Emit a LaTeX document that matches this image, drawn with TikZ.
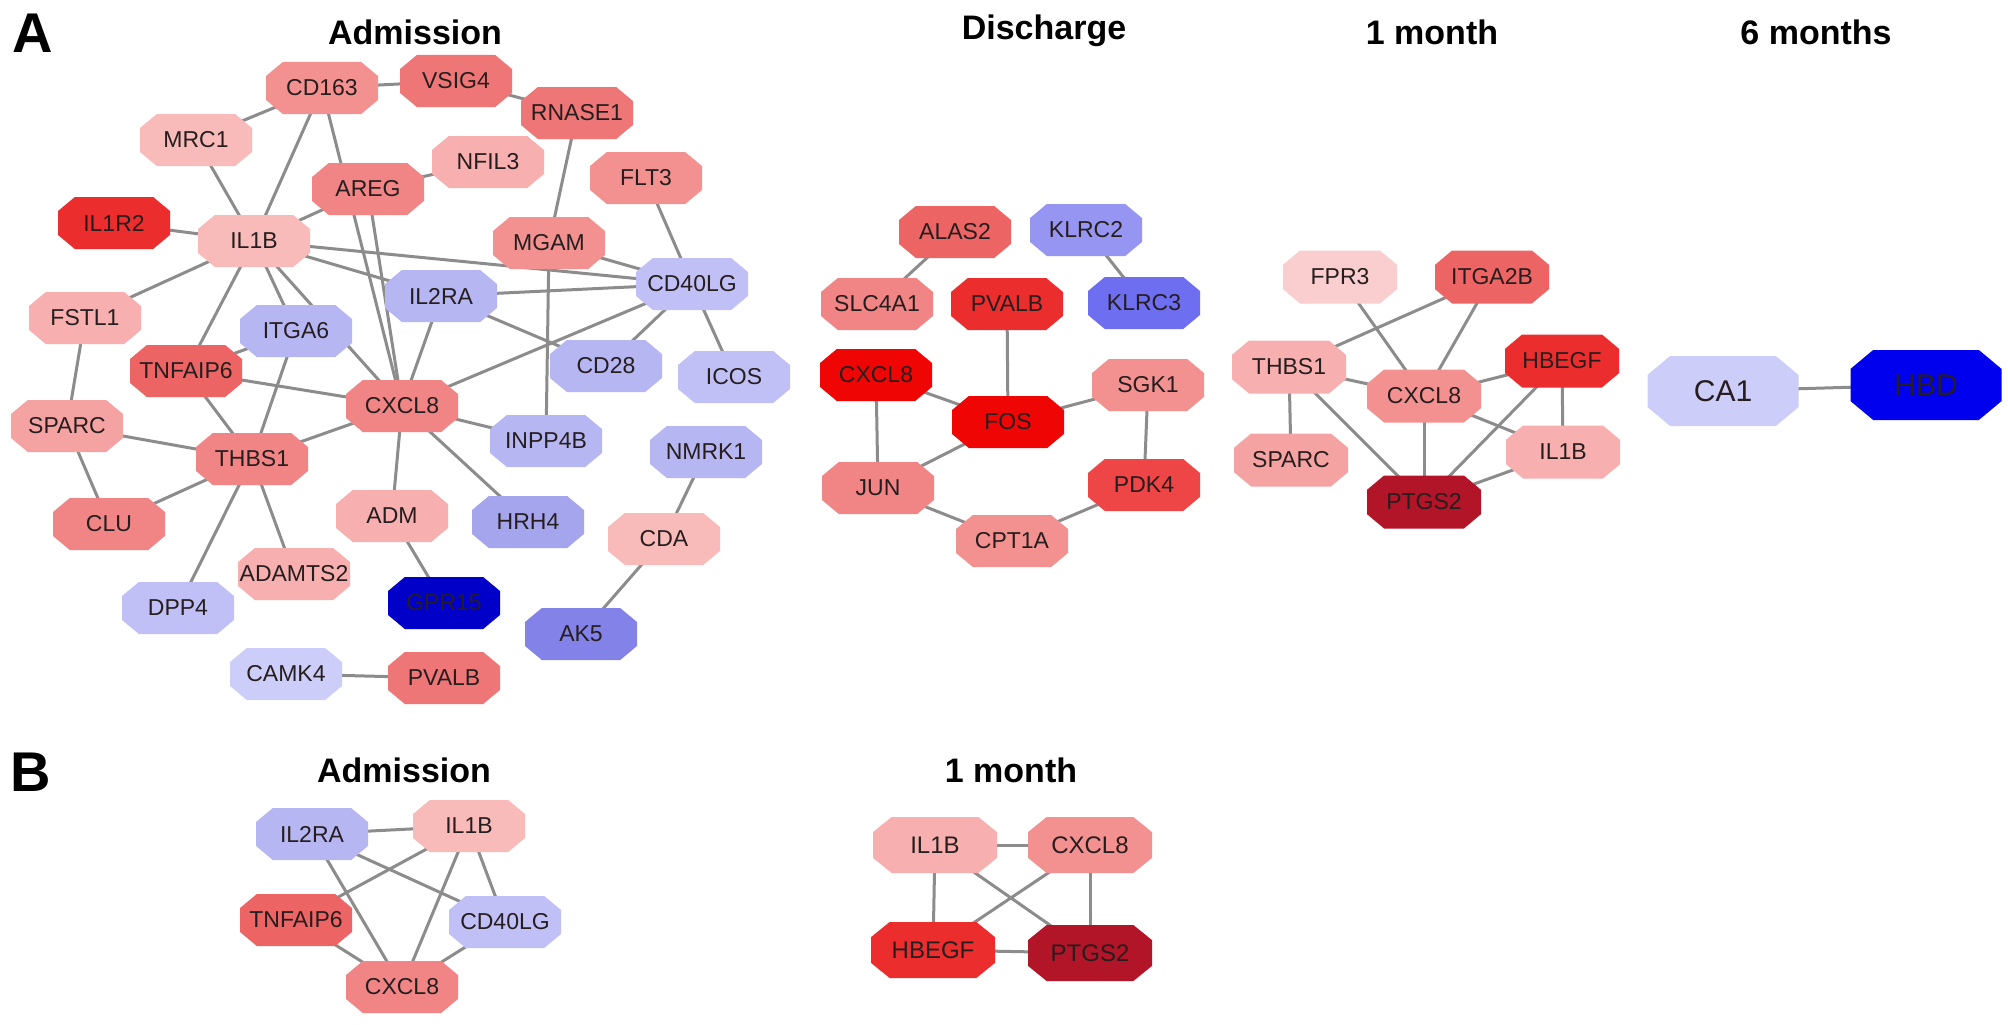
\documentclass[tikz,border=0pt]{standalone}
\usepackage{fontspec}
\setmainfont{Liberation Sans}
\usetikzlibrary{calc}
\pgfdeclarelayer{bg}
\pgfsetlayers{bg,main}
% colours
\definecolor{p1}{RGB}{250,206,206}
\definecolor{p2}{RGB}{249,186,186}
\definecolor{p3}{RGB}{247,175,175}
\definecolor{p4}{RGB}{245,162,162}
\definecolor{p5}{RGB}{243,145,145}
\definecolor{p6}{RGB}{241,132,132}
\definecolor{p7}{RGB}{239,118,118}
\definecolor{p8}{RGB}{237,100,100}
\definecolor{r1}{RGB}{238,70,70}
\definecolor{r2}{RGB}{236,45,45}
\definecolor{r3}{RGB}{240,5,5}
\definecolor{dr}{RGB}{178,20,40}
\definecolor{b1}{RGB}{205,205,250}
\definecolor{b2}{RGB}{192,192,246}
\definecolor{b3}{RGB}{182,182,243}
\definecolor{b4}{RGB}{165,165,238}
\definecolor{b5}{RGB}{150,150,242}
\definecolor{b6}{RGB}{130,130,232}
\definecolor{b7}{RGB}{110,110,240}
\definecolor{bd1}{RGB}{0,0,200}
\definecolor{bd2}{RGB}{0,0,238}
\definecolor{txt}{RGB}{38,30,30}
\definecolor{linkgray}{RGB}{140,140,140}
\newcommand\octfill[1]{%
  \fill[#1] let \p1=(path picture bounding box.south west),
                \p2=(path picture bounding box.north east),
                \n1={0.15*(\x2-\x1)}, \n2={0.27*(\y2-\y1)} in
    ({\x1+\n1},{\y1}) -- ({\x2-\n1},{\y1}) -- ({\x2},{\y1+\n2}) -- ({\x2},{\y2-\n2})
    -- ({\x2-\n1},{\y2}) -- ({\x1+\n1},{\y2}) -- ({\x1},{\y2-\n2}) -- ({\x1},{\y1+\n2}) -- cycle;}
\tikzset{
  oct/.style={rectangle, inner sep=0pt, minimum width=112pt, minimum height=52pt,
    text=txt, font=\fontsize{23}{26}\selectfont, path picture={\octfill{#1}}},
  octm/.style={oct=#1, minimum width=114pt, minimum height=53pt},
  octb/.style={oct=#1, minimum width=124pt, minimum height=56pt, font=\fontsize{24}{27}\selectfont},
  octl/.style={oct=#1, minimum width=151pt, minimum height=70pt, font=\fontsize{30}{34}\selectfont},
  ttl/.style={font=\bfseries\fontsize{34}{40}\selectfont, text=black, inner sep=0pt},
  panel/.style={font=\bfseries\fontsize{56}{60}\selectfont, text=black, inner sep=0pt},
  link/.style={draw=linkgray, line width=3pt},
}
\begin{document}
\begin{tikzpicture}[x=1pt,y=-1pt]
\useasboundingbox (0,0) rectangle (2008,1025);
% titles
\node[panel] (lblA) at (33,33) {A};
\node[panel] (lblB) at (31,772) {B};
\node[ttl] (tAdm) at (415,32) {Admission};
\node[ttl] (tDis) at (1044,31) {Discharge};
\node[ttl] (tMon) at (1432,32) {1 month};
\node[ttl] (tSix) at (1816,32) {6 months};
\node[ttl] (tAdmB) at (404,770) {Admission};
\node[ttl] (tMonB) at (1011,770) {1 month};
% ---- A: Admission
\node[oct=p5] (aCD163) at (322,88) {CD163};
\node[oct=p7] (aVSIG4) at (456,81) {VSIG4};
\node[oct=p2] (aMRC1) at (196,140) {MRC1};
\node[oct=p3] (aNFIL3) at (488,162) {NFIL3};
\node[oct=p7] (aRNASE1) at (577,113) {RNASE1};
\node[oct=p6] (aAREG) at (368,189) {AREG};
\node[oct=p5] (aFLT3) at (646,178) {FLT3};
\node[oct=r2] (aIL1R2) at (114,223) {IL1R2};
\node[oct=p2] (aIL1B) at (254,241) {IL1B};
\node[oct=p5] (aMGAM) at (549,243) {MGAM};
\node[oct=b2] (aCD40LG) at (692,284) {CD40LG};
\node[oct=b3] (aIL2RA) at (441,296) {IL2RA};
\node[oct=p3] (aFSTL1) at (85,318) {FSTL1};
\node[oct=b3] (aITGA6) at (296,331) {ITGA6};
\node[oct=p8] (aTNFAIP6) at (186,371) {TNFAIP6};
\node[oct=b3] (aCD28) at (606,366) {CD28};
\node[oct=b2] (aICOS) at (734,377) {ICOS};
\node[oct=p6] (aCXCL8) at (402,406) {CXCL8};
\node[oct=p4] (aSPARC) at (67,426) {SPARC};
\node[oct=b3] (aINPP4B) at (546,441) {INPP4B};
\node[oct=b3] (aNMRK1) at (706,452) {NMRK1};
\node[oct=p6] (aTHBS1) at (252,459) {THBS1};
\node[oct=p6] (aCLU) at (109,524) {CLU};
\node[oct=p3] (aADM) at (392,516) {ADM};
\node[oct=b4] (aHRH4) at (528,522) {HRH4};
\node[oct=p2] (aCDA) at (664,539) {CDA};
\node[oct=p3] (aADAMTS2) at (294,574) {ADAMTS2};
\node[oct=bd1] (aGPR15) at (444,603) {GPR15};
\node[oct=b2] (aDPP4) at (178,608) {DPP4};
\node[oct=b6] (aAK5) at (581,634) {AK5};
\node[oct=b1] (aCAMK4) at (286,674) {CAMK4};
\node[oct=p7] (aPVALB) at (444,678) {PVALB};
% ---- A: Discharge
\node[oct=p8] (dALAS2) at (955,232) {ALAS2};
\node[oct=b5] (dKLRC2) at (1086,230) {KLRC2};
\node[oct=p6] (dSLC4A1) at (877,304) {SLC4A1};
\node[oct=r2] (dPVALB) at (1007,304) {PVALB};
\node[oct=b7] (dKLRC3) at (1144,303) {KLRC3};
\node[oct=r3] (dCXCL8) at (876,375) {CXCL8};
\node[oct=r3] (dFOS) at (1008,422) {FOS};
\node[oct=p5] (dSGK1) at (1148,385) {SGK1};
\node[oct=p6] (dJUN) at (878,488) {JUN};
\node[oct=r1] (dPDK4) at (1144,485) {PDK4};
\node[oct=p5] (dCPT1A) at (1012,541) {CPT1A};
% ---- A: 1 month
\node[octm=p1] (mFPR3) at (1340,277) {FPR3};
\node[octm=p8] (mITGA2B) at (1492,277) {ITGA2B};
\node[octm=p3] (mTHBS1) at (1289,367) {THBS1};
\node[octm=r2] (mHBEGF) at (1562,361) {HBEGF};
\node[octm=p5] (mCXCL8) at (1424,396) {CXCL8};
\node[octm=p4] (mSPARC) at (1291,460) {SPARC};
\node[octm=p3] (mIL1B) at (1563,452) {IL1B};
\node[octm=dr] (mPTGS2) at (1424,502) {PTGS2};
% ---- A: 6 months
\node[octl=b1] (sCA1) at (1723,391) {CA1};
\node[octl=bd2] (sHBD) at (1926,385) {HBD};
% ---- B: Admission
\node[oct=b3] (bIL2RA) at (312,834) {IL2RA};
\node[oct=p2] (bIL1B) at (469,826) {IL1B};
\node[oct=p8] (bTNFAIP6) at (296,920) {TNFAIP6};
\node[oct=b2] (bCD40LG) at (505,922) {CD40LG};
\node[oct=p6] (bCXCL8) at (402,987) {CXCL8};
% ---- B: 1 month
\node[octb=p3] (cIL1B) at (935,845) {IL1B};
\node[octb=p5] (cCXCL8) at (1090,845) {CXCL8};
\node[octb=r2] (cHBEGF) at (933,950) {HBEGF};
\node[octb=dr] (cPTGS2) at (1090,953) {PTGS2};
% ---- connectors
\begin{pgfonlayer}{bg}
\fill[white] (0,0) rectangle (2008,1025);
\foreach \u/\v in {
  aCD163/aVSIG4, aVSIG4/aRNASE1, aCD163/aMRC1, aCD163/aIL1B, aCD163/aCXCL8,
  aMRC1/aIL1B, aNFIL3/aAREG, aAREG/aIL1B, aAREG/aCXCL8, aRNASE1/aMGAM,
  aIL1R2/aIL1B, aIL1B/aFSTL1, aIL1B/aTNFAIP6, aIL1B/aITGA6, aIL1B/aCXCL8,
  aIL1B/aIL2RA, aIL1B/aCD40LG, aMGAM/aCD40LG, aIL2RA/aCD40LG, aFLT3/aCD40LG,
  aCD40LG/aCD28, aCD40LG/aICOS, aCD40LG/aCXCL8, aIL2RA/aCD28, aIL2RA/aCXCL8,
  aMGAM/aINPP4B, aITGA6/aTNFAIP6, aITGA6/aTHBS1, aTNFAIP6/aTHBS1, aTNFAIP6/aCXCL8,
  aFSTL1/aSPARC, aSPARC/aTHBS1, aSPARC/aCLU, aTHBS1/aCLU, aTHBS1/aDPP4,
  aTHBS1/aADAMTS2, aTHBS1/aCXCL8, aCXCL8/aINPP4B, aCXCL8/aHRH4, aCXCL8/aADM,
  aADM/aGPR15, aCAMK4/aPVALB, aNMRK1/aCDA, aCDA/aAK5,
  dALAS2/dSLC4A1, dKLRC2/dKLRC3, dPVALB/dFOS, dCXCL8/dFOS, dCXCL8/dJUN,
  dFOS/dJUN, dFOS/dSGK1, dSGK1/dPDK4, dPDK4/dCPT1A, dJUN/dCPT1A,
  mFPR3/mCXCL8, mITGA2B/mTHBS1, mITGA2B/mCXCL8, mTHBS1/mCXCL8, mTHBS1/mSPARC,
  mTHBS1/mPTGS2, mCXCL8/mHBEGF, mCXCL8/mPTGS2, mCXCL8/mIL1B, mHBEGF/mIL1B,
  mHBEGF/mPTGS2, mIL1B/mPTGS2,
  sCA1/sHBD,
  bIL2RA/bIL1B, bIL2RA/bCXCL8, bIL2RA/bCD40LG, bIL1B/bTNFAIP6, bIL1B/bCXCL8,
  bIL1B/bCD40LG, bTNFAIP6/bCXCL8, bCD40LG/bCXCL8,
  cIL1B/cCXCL8, cIL1B/cHBEGF, cIL1B/cPTGS2, cCXCL8/cHBEGF, cCXCL8/cPTGS2, cHBEGF/cPTGS2}
  \draw[link] (\u.center) -- (\v.center);
\end{pgfonlayer}
\end{tikzpicture}
\end{document}
